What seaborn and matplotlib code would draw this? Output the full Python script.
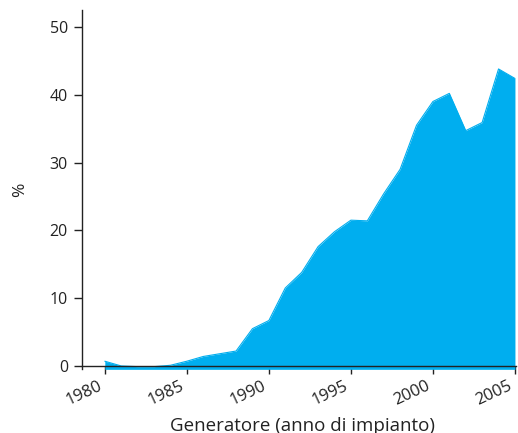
import numpy as np
import pandas as pd
import matplotlib
matplotlib.use("Agg")
import matplotlib.pyplot as plt
import seaborn as sns

# share of generation per installation year (%)
years = list(range(1980, 2006))
share = [0.7, 0.0, -0.1, -0.1, 0.1, 0.7, 1.4, 1.8, 2.2, 5.5,
         6.7, 11.5, 13.8, 17.6, 19.8, 21.5, 21.4, 25.4, 29.0, 35.5,
         39.0, 40.2, 34.7, 35.9, 43.8, 42.4]
xticks = [1980, 1985, 1990, 1995, 2000, 2005]
yticks = [0, 10, 20, 30, 40, 50]

df = pd.DataFrame({"anno": years, "quota": share})

sns.set_style("ticks")
plt.rcParams["font.family"] = ["Open Sans", "DejaVu Sans"]
blue = "#00AEEF"
dark = "#222222"

fig = plt.figure(figsize=(5.18, 4.33), dpi=100)
ax = fig.add_axes([0.158, 0.147, 0.838, 0.830])

sns.lineplot(data=df, x="anno", y="quota", color=blue, lw=0.8, ax=ax)
ax.fill_between(df["anno"], df["quota"], -0.5, color=blue, lw=0)

ax.set_xlim(1978.6, 2005.06)
ax.set_ylim(-0.5, 52.5)
ax.spines["bottom"].set_position(("data", 0))
ax.spines["right"].set_visible(False)
ax.spines["top"].set_visible(False)
for s in ["left", "bottom"]:
    ax.spines[s].set_color(dark)
    ax.spines[s].set_linewidth(1.0)

ax.set_xticks(xticks)
ax.set_yticks(yticks)
ax.set_yticklabels([str(t) for t in yticks], fontsize=11.5, color=dark)
ax.tick_params(axis="both", direction="out", length=6, width=1, color=dark)
ax.tick_params(axis="x", labelbottom=False)
ax.tick_params(axis="y", pad=4)

# rotated year labels, anchored at their lower right corner below each tick
for t in xticks:
    ax.annotate(str(t), xy=(t, 0), xycoords=("data", "data"),
                xytext=(-1.5, -16.5), textcoords="offset points",
                rotation=25, rotation_mode="anchor", ha="right",
                va="baseline", fontsize=12, color=dark,
                annotation_clip=False)

ax.set_xlabel("Generatore (anno di impianto)", fontsize=13.5, color=dark)
ax.set_ylabel("%", fontsize=12.5, color=dark)
ax.xaxis.set_label_coords(0.508, -0.133)
ax.yaxis.set_label_coords(-0.124, 0.5)

fig.savefig("out.png", dpi=100)
